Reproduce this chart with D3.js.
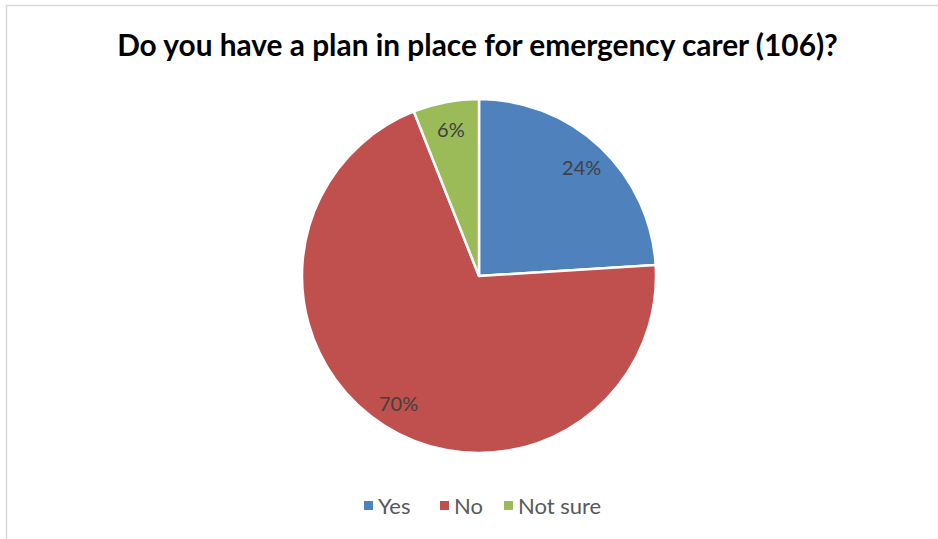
<!DOCTYPE html>
<html>
<head>
<meta charset="utf-8">
<script src="https://cdn.jsdelivr.net/npm/d3@7"></script>
<style>
  html, body { margin: 0; padding: 0; background: #fff; }
  svg { display: block; }
</style>
</head>
<body>
<svg id="chart" width="938" height="539"></svg>
<script>
// Survey answers and their shares (percent)
const categories = ["Yes", "No", "Not sure"];
const values = [24, 70, 6];
const colors = ["#4f81bd", "#c0504d", "#9bbb59"];
const title = "Do you have a plan in place for emergency carer (106)?";

const W = 938, H = 539;
const svg = d3.select("#chart");
const font = "Lato, 'Open Sans', sans-serif";

// Chart area frame
svg.append("rect")
  .attr("x", 6.5).attr("y", 5.5)
  .attr("width", W).attr("height", H)
  .attr("fill", "#fff")
  .attr("stroke", "#d9d9d9").attr("stroke-width", 1.5);

// Title, sized to span its line
const t = svg.append("text")
  .attr("x", 477.5).attr("y", 56)
  .attr("text-anchor", "middle")
  .attr("font-family", font).attr("font-weight", "bold")
  .attr("font-size", 24).attr("fill", "#000")
  .text(title);
const tw = t.node().getComputedTextLength();
t.attr("font-size", 24 * 721 / tw);

// Pie
const cx = 479, cy = 276, R = 177;
const pie = d3.pie().sort(null).value(d => d.v);
const arcs = pie(categories.map((c, i) => ({ c, v: values[i], col: colors[i] })));
const arc = d3.arc().innerRadius(0).outerRadius(R);
const labelArc = d3.arc().innerRadius(150).outerRadius(150);

const g = svg.append("g").attr("transform", `translate(${cx},${cy})`);
g.selectAll("path.slice")
  .data(arcs)
  .join("path")
  .attr("class", "slice")
  .attr("d", arc)
  .attr("fill", d => d.data.col)
  .attr("stroke", "#fff").attr("stroke-width", 2.5)
  .attr("stroke-linejoin", "round");

g.selectAll("text.lbl")
  .data(arcs)
  .join("text")
  .attr("class", "lbl")
  .attr("transform", d => `translate(${labelArc.centroid(d)})`)
  .attr("text-anchor", "middle")
  .attr("dy", "0.4em")
  .attr("font-family", font)
  .attr("font-size", 20)
  .attr("fill", "#404040")
  .text(d => d.data.v + "%");

// Legend
const legendY = 506;
const legend = svg.append("g");
let lx = 364;
const gaps = [76, 64, 0];
categories.forEach((c, i) => {
  legend.append("rect")
    .attr("x", lx).attr("y", legendY - 5)
    .attr("width", 9).attr("height", 9)
    .attr("fill", colors[i]);
  legend.append("text")
    .attr("x", lx + 14).attr("y", legendY)
    .attr("dy", "0.35em")
    .attr("font-family", font)
    .attr("font-size", 22)
    .attr("fill", "#595959")
    .text(c);
  lx += gaps[i];
});
</script>
</body>
</html>
